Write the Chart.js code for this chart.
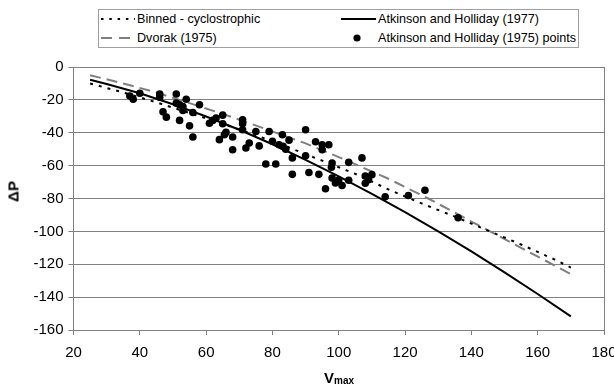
<!DOCTYPE html>
<html>
<head>
<meta charset="utf-8">
<script src="https://cdn.jsdelivr.net/npm/chart.js@4.4.1/dist/chart.umd.min.js"></script>
<style>
  body { margin: 0; background: #fff; }
  #wrap { position: relative; width: 614px; height: 386px; font-family: "Liberation Sans", Arial, sans-serif; color: #000; }
  #legend { position: absolute; left: 98px; top: 9px; width: 479px; height: 37px; border: 1px solid #a0a0a0; font-size: 12.6px; background: #fff; }
  #legend span { position: absolute; line-height: 14px; white-space: nowrap; }
  #legend svg { position: absolute; left: 0; top: 0; }
  #xTitle { position: absolute; left: 309px; width: 60px; top: 369px; text-align: center; font-weight: bold; font-size: 15px; }
  #xTitle sub { font-size: 10px; vertical-align: baseline; position: relative; top: 1px; }
  #yTitle { position: absolute; left: -12px; top: 183px; width: 50px; text-align: center; font-weight: bold; font-size: 15px; transform: rotate(-90deg); }
</style>
</head>
<body>
<div id="wrap">
  <canvas id="chart" width="614" height="386"></canvas>
  <div id="legend">
    <svg width="479" height="37">
      <line x1="2" y1="9" x2="36" y2="9" stroke="#000" stroke-width="2" stroke-dasharray="2.5,5.8"/>
      <line x1="2" y1="28" x2="31" y2="28" stroke="#7f7f7f" stroke-width="2" stroke-dasharray="11,7"/>
      <line x1="242" y1="9" x2="277" y2="9" stroke="#000" stroke-width="2"/>
      <circle cx="258" cy="28" r="3.6" fill="#000"/>
    </svg>
    <span style="left:38px; top:2px">Binned - cyclostrophic</span>
    <span style="left:38px; top:21px">Dvorak (1975)</span>
    <span style="left:279px; top:2px">Atkinson and Holliday (1977)</span>
    <span style="left:279px; top:21px">Atkinson and Holliday (1975) points</span>
  </div>
  <div id="xTitle">V<sub>max</sub></div>
  <div id="yTitle">ΔP</div>
</div>
<script>
// Atkinson and Holliday (1975) observations
const pointsV = [37, 38, 40, 46, 46, 47, 48, 51, 51, 52, 52, 53, 53, 54, 55, 56, 56, 58,
  61, 62, 63, 65, 65, 66, 64, 68, 68, 65.5, 71, 71, 71, 73, 72, 75, 76, 78, 79, 80,
  81, 83, 82, 83.2, 84, 85, 86, 86, 90, 90, 91, 93, 94, 95, 95, 97, 96, 98, 97.8, 98,
  99, 100, 101, 103, 103, 107, 108, 110, 109, 108, 114, 121, 126, 136];
const pointsP = [-17.6, -19.6, -16, -16.4, -18.4, -27.3, -30.5, -16.4, -22, -32.5, -23, -24, -26.5, -19.6, -35.8, -27.7, -42.6, -23,
  -34.2, -32.5, -31.1, -29.3, -34.5, -39.8, -44.2, -42.6, -50.3, -41.2, -32.1, -34.5, -38.2, -46.2, -49.3, -39.2, -48, -59, -39.2, -45.2,
  -59, -41.2, -47.3, -48.3, -50, -44.5, -55.3, -65.3, -38.2, -54, -64.2, -45.5, -65.3, -47.3, -50.3, -47.3, -74.1, -58.4, -61, -67.5,
  -70.5, -68.7, -72.1, -58, -68.9, -55.3, -66.3, -65.5, -68.6, -70.7, -79, -78.2, -75, -91.7];

// Binned - cyclostrophic
const binnedV = [25, 35, 45, 55, 65, 75, 85, 95, 105, 115, 125, 135, 145, 155, 165, 170];
const binnedP = [-10, -15.5, -21.5, -28, -34.5, -41.5, -49, -57, -65, -74.5, -83, -91, -99.5, -108, -117, -122];

// Dvorak (1975)
const dvorakV = [25, 35, 45, 55, 65, 77, 90, 102, 115, 127, 140, 155, 170];
const dvorakP = [-5, -10, -15.5, -22, -28.5, -37, -46.5, -56.5, -68, -80, -94, -110, -126];

// Atkinson and Holliday (1977)
const ahV = [25, 30, 40, 50, 60, 70, 80, 90, 100, 110, 120, 130, 140, 150, 160, 170];
const ahP = [-7.7, -10.3, -16, -22.7, -30.1, -38.2, -47, -56.5, -66.6, -77.2, -88.3, -100, -112.2, -124.9, -138.1, -151.7];

const xTicks = [20, 40, 60, 80, 100, 120, 140, 160, 180];
const yTicks = [0, -20, -40, -60, -80, -100, -120, -140, -160];

const pts = (xs, ys) => xs.map((x, i) => ({ x: x, y: ys[i] }));

const gridGray = '#808080';
const tickFont = { family: 'Liberation Sans', size: 15 };

const rightBorder = {
  id: 'rightBorder',
  afterDraw(chart) {
    const { ctx, chartArea } = chart;
    ctx.save();
    ctx.strokeStyle = gridGray;
    ctx.lineWidth = 1;
    ctx.beginPath();
    ctx.moveTo(Math.round(chartArea.right) + 0.5, chartArea.top);
    ctx.lineTo(Math.round(chartArea.right) + 0.5, chartArea.bottom);
    ctx.stroke();
    ctx.restore();
  }
};

new Chart(document.getElementById('chart'), {
  type: 'scatter',
  data: {
    datasets: [
      {
        label: 'Atkinson and Holliday (1975) points',
        data: pts(pointsV, pointsP),
        pointRadius: 3.8,
        pointBackgroundColor: '#000',
        pointBorderWidth: 0,
        showLine: false
      },
      {
        label: 'Binned - cyclostrophic',
        data: pts(binnedV, binnedP),
        showLine: true,
        pointRadius: 0,
        borderColor: '#000',
        borderWidth: 2,
        borderDash: [3, 6]
      },
      {
        label: 'Dvorak (1975)',
        data: pts(dvorakV, dvorakP),
        showLine: true,
        pointRadius: 0,
        borderColor: '#7f7f7f',
        borderWidth: 2,
        borderDash: [11, 6]
      },
      {
        label: 'Atkinson and Holliday (1977)',
        data: pts(ahV, ahP),
        showLine: true,
        pointRadius: 0,
        borderColor: '#000',
        borderWidth: 2
      }
    ]
  },
  options: {
    responsive: false,
    animation: false,
    devicePixelRatio: 1,
    layout: { padding: { top: 67, right: 10, bottom: 0, left: 0 } },
    plugins: {
      legend: { display: false },
      tooltip: { enabled: false }
    },
    scales: {
      x: {
        type: 'linear',
        min: xTicks[0],
        max: xTicks[xTicks.length - 1],
        afterBuildTicks: s => { s.ticks = xTicks.map(v => ({ value: v })); },
        afterFit: s => { s.height = 56; s.paddingLeft = 0; s.paddingRight = 0; },
        ticks: { font: tickFont, color: '#000', padding: 9, maxRotation: 0, autoSkip: false },
        grid: { drawOnChartArea: false, drawTicks: true, tickLength: 5, color: gridGray },
        border: { color: gridGray, width: 1 }
      },
      y: {
        type: 'linear',
        min: yTicks[yTicks.length - 1],
        max: yTicks[0],
        afterBuildTicks: s => { s.ticks = yTicks.map(v => ({ value: v })); },
        afterFit: s => { s.width = 73.5; s.paddingTop = 0; s.paddingBottom = 0; },
        ticks: { font: tickFont, color: '#000', padding: 5, autoSkip: false },
        grid: { color: gridGray, lineWidth: 1, drawTicks: true, tickLength: 5 },
        border: { color: gridGray, width: 1 }
      }
    }
  },
  plugins: [rightBorder]
});
</script>
</body>
</html>
